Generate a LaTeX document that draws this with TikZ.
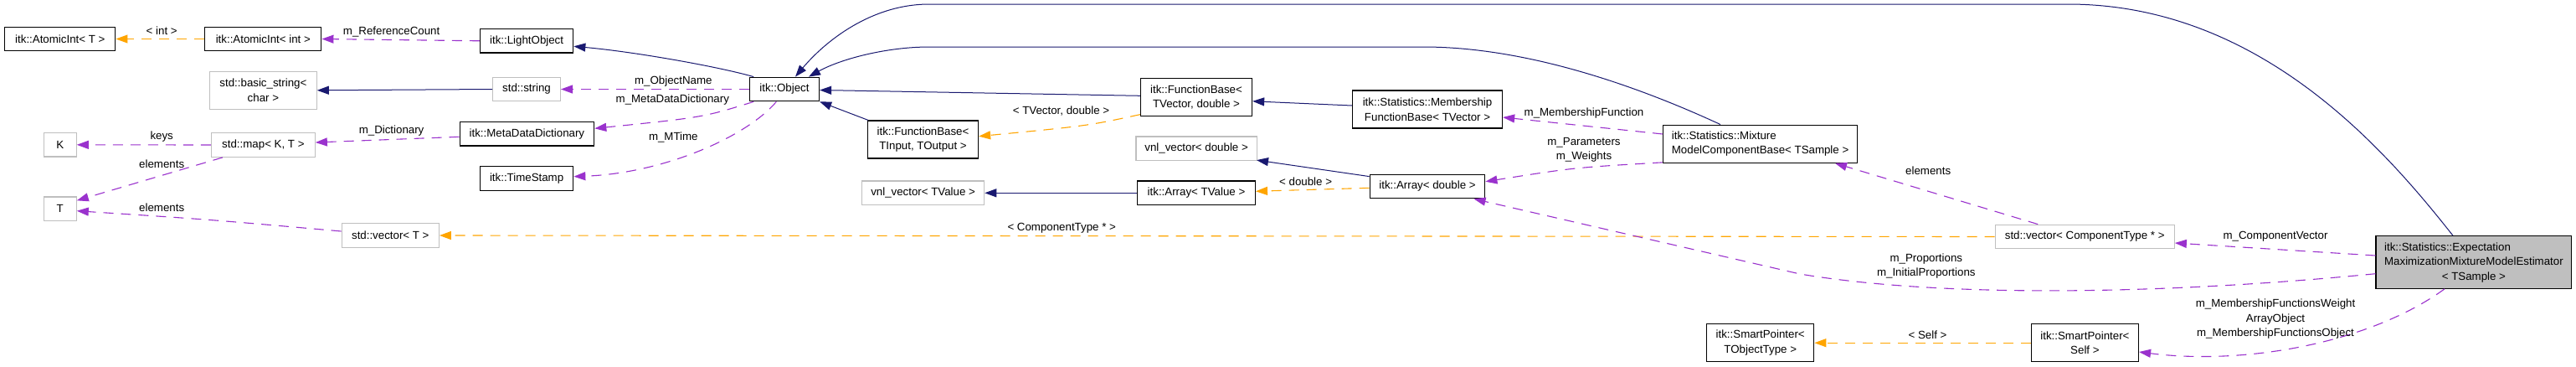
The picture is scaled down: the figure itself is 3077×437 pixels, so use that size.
\documentclass[tikz,border=0pt]{standalone}
\usepackage{fontspec}
\setmainfont{Liberation Sans}
\usetikzlibrary{arrows.meta,calc}
\definecolor{navy}{HTML}{191970}
\definecolor{purp}{HTML}{9A32CD}
\definecolor{orng}{HTML}{FFA500}
\definecolor{grayb}{HTML}{BFBFBF}
\tikzset{
  base/.style={draw, line width=1.3pt, inner sep=0pt, font=\fontsize{13.3}{17.5}\selectfont, align=center, fill=white},
  cls/.style={base, draw=black},
  ext/.style={base, draw=grayb},
  one/.style={minimum height=28.5pt},
  two/.style={minimum height=45pt},
  lbl/.style={inner sep=0pt, font=\fontsize{13.3}{17.5}\selectfont, align=center},
  tipped/.style={-{Triangle[length=14pt,width=10pt]}},
  inh/.style={tipped, draw=navy, line width=1pt},
  mem/.style={tipped, draw=purp, line width=1.1pt, dash pattern=on 12pt off 9pt},
  tpl/.style={tipped, draw=orng, line width=1.1pt, dash pattern=on 12pt off 9pt},
}
\begin{document}
\begin{tikzpicture}[x=1pt,y=-1pt]
\fill[white] (0,0) rectangle (3077,437);
\useasboundingbox (0,0) rectangle (3077,437);
% nodes
\node[cls,one,minimum width=132pt] (ait) at (71.8,46.5) {itk::AtomicInt< T >};
\node[cls,one,minimum width=139pt] (aiint) at (314.3,46.5) {itk::AtomicInt< int >};
\node[ext,two,minimum width=127.5pt] (bstr) at (314.4,107.8) {std::basic\_string<\\char >};
\node[ext,one,minimum width=38.7pt] (K) at (71.8,172.8) {K};
\node[ext,one,minimum width=123.6pt] (map) at (314.4,173) {std::map< K, T >};
\node[ext,one,minimum width=38.7pt] (T) at (71.8,249.2) {T};
\node[ext,one,minimum width=116pt] (vecT) at (466.3,281) {std::vector< T >};
\node[cls,one,minimum width=111.2pt] (light) at (629.1,48.8) {itk::LightObject};
\node[ext,one,minimum width=80.7pt] (str) at (629,106.5) {std::string};
\node[cls,one,minimum width=83pt] (obj) at (937,106.5) {itk::Object};
\node[cls,one,minimum width=160.5pt] (mdd) at (629.4,159.8) {itk::MetaDataDictionary};
\node[cls,one,minimum width=111.2pt] (ts) at (629.1,213) {itk::TimeStamp};
\node[cls,two,minimum width=132pt] (fbin) at (1102.5,166.5) {itk::FunctionBase<\\ TInput, TOutput >};
\node[cls,two,minimum width=133pt] (fbtv) at (1429,115.8) {itk::FunctionBase<\\ TVector, double >};
\node[ext,one,minimum width=144.5pt] (vnld) at (1429.1,177.2) {vnl\_vector< double >};
\node[ext,one,minimum width=146pt] (vnlt) at (1102.6,230.3) {vnl\_vector< TValue >};
\node[cls,one,minimum width=140.6pt] (arrt) at (1429,230.3) {itk::Array< TValue >};
\node[cls,two,minimum width=179pt] (mfb) at (1705,130.5) {itk::Statistics::Membership\\FunctionBase< TVector >};
\node[cls,two,minimum width=231.7pt,align=left] (mix) at (2102.6,171.7) {itk::Statistics::Mixture\\ModelComponentBase< TSample >};
\node[cls,one,minimum width=137.5pt] (arrd) at (1705,222.5) {itk::Array< double >};
\node[ext,one,minimum width=214pt] (vecct) at (2490.2,282.5) {std::vector< ComponentType * >};
\node[cls,two,minimum width=128pt] (spt) at (2102.7,409.2) {itk::SmartPointer<\\ TObjectType >};
\node[cls,two,minimum width=128pt] (sps) at (2490.4,409.2) {itk::SmartPointer<\\ Self >};
\node[cls,minimum height=62.5pt,minimum width=233.6pt,fill=grayb] (em) at (2954.9,313)
  {\begin{tabular}{@{}l@{}}itk::Statistics::Expectation\\MaximizationMixtureModelEstimator\\\multicolumn{1}{@{}c@{}}{< TSample >}\end{tabular}};
% edges
\draw[tpl] (aiint.west) -- (ait.east);
\draw[mem] (light.west) -- (aiint.east);
\draw[inh] (str.west) -- (bstr.east);
\draw[mem] ($(mdd.west)+(0,3.5)$) -- ($(map.east)+(0,-3)$);
\draw[mem] (map.west) -- (K.east);
\draw[mem] ($(map.south west)+(14,0)$) -- ($(T.north east)+(0,5)$);
\draw[mem] ($(vecT.west)+(0,-5)$) .. controls (250,262) .. ($(T.east)+(0,2.5)$);
\draw[inh] ($(obj.north west)+(5.3,0)$) .. controls (860,80) and (760,62) .. ($(light.east)+(0,6.5)$);
\draw[mem] (obj.west) -- (str.east);
\draw[mem] ($(obj.south west)+(5.3,0)$) .. controls (840,140) .. ($(mdd.east)+(0,-6.5)$);
\draw[mem] ($(obj.south west)+(32.5,0)$) .. controls (890,165) and (790,207) .. ($(ts.east)+(0,-2.3)$);
\draw[inh] ($(fbin.north west)+(1,0)$) -- (obj.south east);
\draw[inh] ($(fbtv.west)+(0,-1.5)$) -- ($(obj.east)+(0,1)$);
\draw[tpl] ($(fbtv.south west)+(0,-2.3)$) .. controls (1300,150) .. ($(fbin.east)+(0,-3.8)$);
\draw[inh] ($(mfb.west)+(0,-4.5)$) -- ($(fbtv.east)+(0,5)$);
\draw[inh] ($(mix.north)+(-47.6,0)$) .. controls (1950,100) and (1820,56) .. (1700,56) -- (1110,56) .. controls (1060,56) and (1005,70) .. ($(obj.north)+(29,0)$);
\draw[inh] ($(em.north)+(-25,0)$) .. controls (2850,180) and (2700,5) .. (2470,5) -- (1110,5) .. controls (1040,5) and (985,50) .. ($(obj.north)+(13,0)$);
\draw[mem] ($(mix.west)+(0,-11.7)$) -- ($(mfb.east)+(0,9.5)$);
\draw[mem] ($(mix.south west)+(0,-1)$) .. controls (1880,200) .. ($(arrd.east)+(0,-5.8)$);
\draw[inh] ($(arrd.north west)+(0,3)$) -- ($(vnld.south east)+(-1,-1)$);
\draw[tpl] ($(arrd.west)+(0,1.8)$) -- ($(arrt.east)+(0,-2)$);
\draw[inh] (arrt.west) -- (vnlt.east);
\draw[tpl] (vecct.west) -- (vecT.east);
\draw[mem] ($(vecct.north)+(-56,0)$) -- ($(mix.south)+(89.4,0)$);
\draw[mem] ($(em.west)+(0,-8)$) -- ($(vecct.east)+(0,7.5)$);
\draw[mem] ($(em.west)+(0,13.7)$) .. controls (2600,350) and (2330,357) .. (2150,327) -- ($(arrd.south)+(55.5,0)$);
\draw[mem] ($(em.south)+(-35,0)$) .. controls (2830,410) and (2680,436) .. ($(sps.east)+(0,10.8)$);
\draw[tpl] (sps.west) -- (spt.east);
% labels
\node[lbl] (l1) at (193.2,36.7) {< int >};
\node[lbl] (l2) at (467.6,38.3) {m\_ReferenceCount};
\node[lbl] (l3) at (193.2,163.3) {keys};
\node[lbl] (l4) at (467.6,155.7) {m\_Dictionary};
\node[lbl] (l5) at (193.2,196) {elements};
\node[lbl] (l6) at (193.2,247.7) {elements};
\node[lbl] (l7) at (804.3,96.7) {m\_ObjectName};
\node[lbl] (l8) at (803.3,119.3) {m\_MetaDataDictionary};
\node[lbl] (l9) at (804.3,164.3) {m\_MTime};
\node[lbl] (l10) at (1267.5,132.7) {< TVector, double >};
\node[lbl] (l11) at (1559.6,216.7) {< double >};
\node[lbl] (l12) at (1268.2,272.3) {< ComponentType * >};
\node[lbl] (l13) at (1892,135) {m\_MembershipFunction};
\node[lbl] (l14) at (1892,179) {m\_Parameters\\m\_Weights};
\node[lbl] (l15) at (2303.2,204) {elements};
\node[lbl] (l16) at (2300.8,317.5) {m\_Proportions\\m\_InitialProportions};
\node[lbl] (l17) at (2302.5,400) {< Self >};
\node[lbl] (l18) at (2718,282.7) {m\_ComponentVector};
\node[lbl] (l19) at (2718,380.7) {m\_MembershipFunctionsWeight\\ArrayObject\\m\_MembershipFunctionsObject};
\end{tikzpicture}
\end{document}
